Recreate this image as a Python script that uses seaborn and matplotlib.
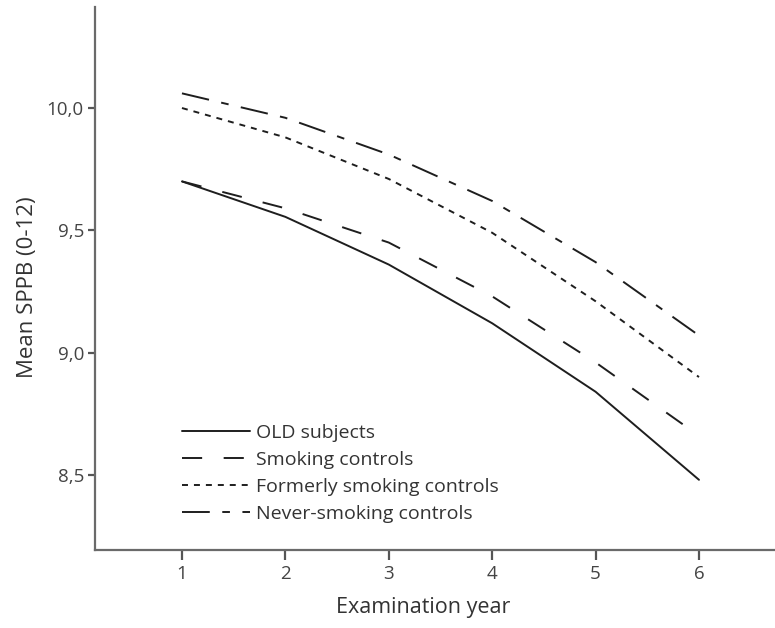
import matplotlib
matplotlib.use("Agg")
import matplotlib.pyplot as plt
import seaborn as sns
import pandas as pd

# Mean SPPB per examination year for each group
years = [1, 2, 3, 4, 5, 6]
old_subjects = [9.70, 9.555, 9.36, 9.12, 8.84, 8.48]
smoking_controls = [9.70, 9.59, 9.45, 9.23, 8.96, 8.66]
formerly_smoking = [10.00, 9.88, 9.71, 9.49, 9.21, 8.90]
never_smoking = [10.06, 9.96, 9.81, 9.62, 9.37, 9.07]

groups = ["OLD subjects", "Smoking controls",
          "Formerly smoking controls", "Never-smoking controls"]
series = [old_subjects, smoking_controls, formerly_smoking, never_smoking]

y_ticks = [8.5, 9.0, 9.5, 10.0]
y_tick_labels = ["8,5", "9,0", "9,5", "10,0"]
x_label = "Examination year"
y_label = "Mean SPPB (0-12)"

df = pd.DataFrame({
    "year": [yr for _ in groups for yr in years],
    "sppb": [v for s in series for v in s],
    "group": [g for g in groups for _ in years],
})

sns.set_theme(style="white")
plt.rcParams["font.family"] = ["Open Sans", "DejaVu Sans"]
plt.rcParams["lines.scale_dashes"] = False

W, H = 775, 628
fig = plt.figure(figsize=(W / 100, H / 100), dpi=100)
# axes box in pixel coordinates (extends past the right edge)
left, right, top, bottom = 95, 800, 7, 550
ax = fig.add_axes([left / W, 1 - bottom / H, (right - left) / W, (bottom - top) / H])

dash_styles = {
    "OLD subjects": "",
    "Smoking controls": (14.5, 15.5),
    "Formerly smoking controls": (4.3, 4.3),
    "Never-smoking controls": (20, 9, 5.5, 9),
}

sns.lineplot(data=df, x="year", y="sppb", style="group", style_order=groups,
             dashes=dash_styles, color="#1e1e1e", linewidth=1.4,
             legend=False, ax=ax)

ax.set_xlim(0.159, 6.977)
ax.set_ylim(8.193, 10.413)
ax.set_xticks(years)
ax.set_xticklabels([str(y) for y in years])
ax.set_yticks(y_ticks)
ax.set_yticklabels(y_tick_labels)

for side in ("top", "right"):
    ax.spines[side].set_visible(False)
for side in ("left", "bottom"):
    ax.spines[side].set_color("#6a6a6a")
    ax.spines[side].set_linewidth(1.6)

ax.tick_params(axis="y", direction="out", length=5, width=1.6, color="#555555",
               labelsize=13.5, labelcolor="#444444", pad=3, left=True)
ax.tick_params(axis="x", direction="out", length=7, width=1.6, color="#555555",
               labelsize=13.5, labelcolor="#444444", pad=4, bottom=True)

ax.set_xlabel(x_label, fontsize=15.5, color="#333333")
ax.set_ylabel(y_label, fontsize=16, color="#333333")
ax.xaxis.set_label_coords((423 - left) / (right - left), -(607 - bottom) / (bottom - top),
                          transform=ax.transAxes)
ax.xaxis.label.set_va("center")
ax.yaxis.set_label_coords(-(95 - 28) / (right - left), (550 - 287) / (bottom - top),
                          transform=ax.transAxes)
ax.yaxis.label.set_va("center")

handles = ax.lines[:len(groups)]
leg = ax.legend(handles, groups, loc="upper left",
                bbox_to_anchor=(182 / W, 1 - 424 / H), bbox_transform=fig.transFigure,
                frameon=False, fontsize=14, handlelength=3.5, handletextpad=0.3,
                labelspacing=0.46, borderpad=0, borderaxespad=0)
for t in leg.get_texts():
    t.set_color("#333333")

fig.savefig("out.png", dpi=100)
